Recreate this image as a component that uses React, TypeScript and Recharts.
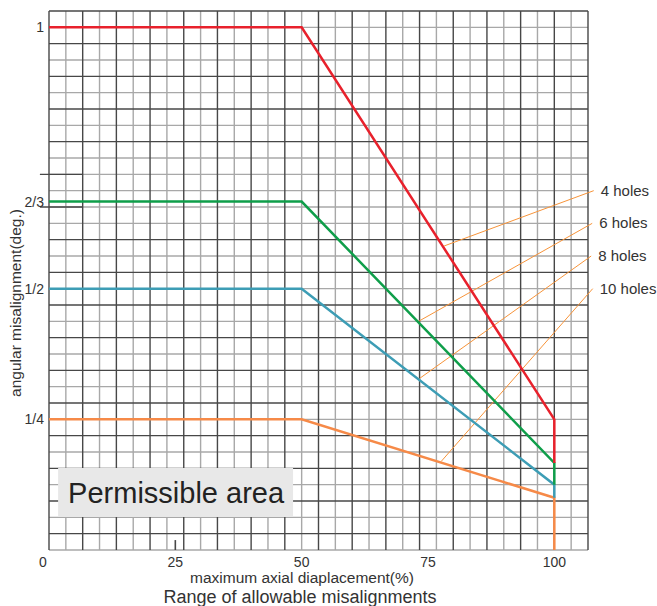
import React from 'react';
import { LineChart, Line, XAxis, YAxis, ReferenceLine, ReferenceArea, ReferenceDot, CartesianGrid } from 'recharts';

// ---- data ----
const xTicks = [0, 25, 50, 75, 100];
const yTicks = [0.25, 0.5, 2 / 3, 1];
const yTickLabels = ['1/4', '1/2', '2/3', '1'];

const redData = [
  { x: 0, y: 1 },
  { x: 50, y: 1 },
  { x: 100, y: 1 / 4 },
  { x: 100, y: 1 / 6 },
];
const greenData = [
  { x: 0, y: 2 / 3 },
  { x: 50, y: 2 / 3 },
  { x: 100, y: 1 / 6 },
  { x: 100, y: 1 / 8 },
];
const blueData = [
  { x: 0, y: 1 / 2 },
  { x: 50, y: 1 / 2 },
  { x: 100, y: 1 / 8 },
  { x: 100, y: 1 / 10 },
];
const orangeData = [
  { x: 0, y: 1 / 4 },
  { x: 50, y: 1 / 4 },
  { x: 100, y: 1 / 10 },
  { x: 100, y: 0 },
];

const holeLabels = ['4 holes', '6 holes', '8 holes', '10 holes'];
const leaderStartX = [107.8, 107.5, 107.3, 107.6];
const leaderStartY = [0.6875, 0.625, 0.5625, 0.5];
const leaderEndX = [78.2, 72.9, 73.3, 77.6];
const leaderEndY = [0.5817, 0.4362, 0.328, 0.1693];

const X_MAX = 320 / 3;
const Y_MAX = 33 / 32;

// graph-paper grid: cells of 10/3 % horizontally and 1/32 deg vertically
const xGridIdx = Array.from({ length: 33 }, (_, j) => j);
const yGridIdx = Array.from({ length: 34 }, (_, k) => k);
const yStubLines = [21, 23];

const xGridDark = xGridIdx.filter((j) => j % 2 === 0).map((j) => (j * 10) / 3);
const xGridLight = xGridIdx.filter((j) => j % 2 === 1).map((j) => (j * 10) / 3);
const yGridDark = yGridIdx.filter((k) => k % 2 === 1 && !yStubLines.includes(k)).map((k) => k / 32);
const yGridLight = yGridIdx.filter((k) => k % 2 === 0 || yStubLines.includes(k)).map((k) => k / 32);

const areaBox = { x1: 1.8, x2: 48.3, y1: 0.063, y2: 0.157 };

const DARK = '#474747';
const LIGHT = '#a8a8a8';
const FONT = '"Liberation Sans", Arial, sans-serif';
const TEXT = '#333';

const vGen = (vals: number[]) => (p: any) =>
  vals.map((v) =>
    p && p.xAxis && typeof p.xAxis.scale === 'function'
      ? p.xAxis.scale(v)
      : p.offset.left + (v / X_MAX) * p.offset.width
  );
const hGen = (vals: number[]) => (p: any) =>
  vals.map((v) =>
    p && p.yAxis && typeof p.yAxis.scale === 'function'
      ? p.yAxis.scale(v)
      : p.offset.top + (1 - v / Y_MAX) * p.offset.height
  );

const XTick = (props: any) => {
  const { x, payload } = props;
  const v = payload.value;
  return (
    <text x={x + (v === 0 ? -6 : 0)} y={567} textAnchor="middle" fontSize={14} fill={TEXT} fontFamily={FONT}>
      {v}
    </text>
  );
};

const YTick = (props: any) => {
  const { y, payload } = props;
  const idx = yTicks.indexOf(payload.value);
  return (
    <text x={44} y={y + 5} textAnchor="end" fontSize={14} fill={TEXT} fontFamily={FONT}>
      {yTickLabels[idx]}
    </text>
  );
};

export default function App() {
  return (
    <div style={{ position: 'absolute', left: 0, top: 0, width: 657, height: 606, background: '#fff' }}>
      <LineChart width={657} height={606} margin={{ top: 11, right: 69, left: 0, bottom: 0 }}>
        <XAxis
          type="number"
          dataKey="x"
          domain={[0, X_MAX]}
          ticks={xTicks}
          height={56}
          tick={<XTick />}
          tickLine={false}
          axisLine={false}
          allowDataOverflow
          label={{
            content: () => (
              <g fontFamily={FONT} fill={TEXT}>
                <text x={302} y={583} textAnchor="middle" fontSize={15.5}>
                  maximum axial diaplacement(%)
                </text>
                <text x={300} y={603} textAnchor="middle" fontSize={18}>
                  Range of allowable misalignments
                </text>
              </g>
            ),
          }}
        />
        <YAxis
          type="number"
          domain={[0, Y_MAX]}
          ticks={yTicks}
          width={49}
          tick={<YTick />}
          tickLine={false}
          axisLine={false}
          allowDataOverflow
          label={{
            content: () => (
              <text
                x={21}
                y={303}
                transform="rotate(-90 21 303)"
                textAnchor="middle"
                fontSize={15.5}
                fill={TEXT}
                fontFamily={FONT}
              >
                angular misalignment(deg.)
              </text>
            ),
          }}
        />

        <CartesianGrid
          verticalCoordinatesGenerator={vGen(xGridLight)}
          horizontalCoordinatesGenerator={hGen(yGridLight)}
          stroke={LIGHT}
          strokeWidth={1.4}
          fill="none"
        />
        <CartesianGrid
          verticalCoordinatesGenerator={vGen(xGridDark)}
          horizontalCoordinatesGenerator={hGen(yGridDark)}
          stroke={DARK}
          strokeWidth={1.4}
          fill="none"
        />

        {yStubLines.map((k) => (
          <ReferenceLine
            key={'ys' + k}
            segment={[
              { x: -1.8, y: k / 32 },
              { x: 20 / 3, y: k / 32 },
            ]}
            stroke={DARK}
            strokeWidth={1.4}
            ifOverflow="visible"
          />
        ))}
        <ReferenceLine
          segment={[
            { x: 25, y: 0 },
            { x: 25, y: 0.019 },
          ]}
          stroke={DARK}
          strokeWidth={1.6}
          ifOverflow="visible"
        />

        <ReferenceArea
          x1={areaBox.x1}
          x2={areaBox.x2}
          y1={areaBox.y1}
          y2={areaBox.y2}
          fill="#e8e8e8"
          fillOpacity={1}
          stroke="none"
          ifOverflow="visible"
          label={{
            content: (p: any) => (
              <text
                x={p.viewBox.x + 10}
                y={p.viewBox.y + p.viewBox.height / 2 + 10.5}
                fontSize={29}
                fill="#222"
                fontFamily={FONT}
              >
                Permissible area
              </text>
            ),
          }}
        />

        {holeLabels.map((lab, i) => (
          <ReferenceLine
            key={'ld' + i}
            segment={[
              { x: leaderStartX[i], y: leaderStartY[i] },
              { x: leaderEndX[i], y: leaderEndY[i] },
            ]}
            stroke="#f7943a"
            strokeWidth={1}
            ifOverflow="visible"
          />
        ))}
        {holeLabels.map((lab, i) => (
          <ReferenceDot
            key={'lb' + i}
            x={leaderStartX[i]}
            y={leaderStartY[i]}
            r={0}
            fill="none"
            stroke="none"
            ifOverflow="visible"
            label={{
              content: (p: any) => (
                <text
                  x={p.viewBox.x + 7}
                  y={p.viewBox.y + 5}
                  fontSize={15}
                  fill={TEXT}
                  fontFamily={FONT}
                >
                  {lab}
                </text>
              ),
            }}
          />
        ))}

        <Line data={orangeData} dataKey="y" type="linear" stroke="#f68a48" strokeWidth={2.5} dot={false} isAnimationActive={false} />
        <Line data={blueData} dataKey="y" type="linear" stroke="#3d9db5" strokeWidth={2.5} dot={false} isAnimationActive={false} />
        <Line data={greenData} dataKey="y" type="linear" stroke="#0f9e4a" strokeWidth={2.5} dot={false} isAnimationActive={false} />
        <Line data={redData} dataKey="y" type="linear" stroke="#e8212c" strokeWidth={2.5} dot={false} isAnimationActive={false} />
      </LineChart>
    </div>
  );
}
